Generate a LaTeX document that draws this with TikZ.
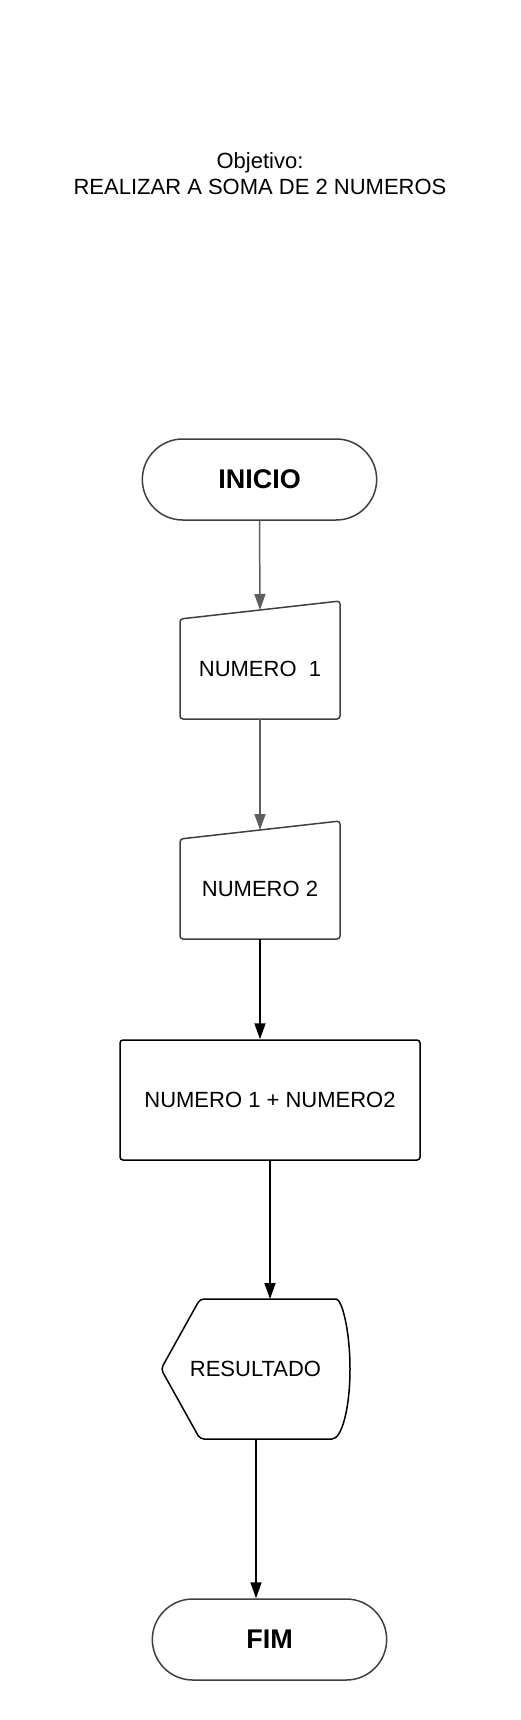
\documentclass[tikz,border=0pt]{standalone}
\usepackage{fontspec}
\setmainfont{Liberation Sans}
\usetikzlibrary{shapes.misc,arrows.meta}

\definecolor{bordergray}{HTML}{3B3F48}
\definecolor{arrowgray}{HTML}{5E5E5E}

\begin{document}
\begin{tikzpicture}[x=1pt,y=-1pt,
    txt/.style={font=\fontsize{22}{26}\selectfont},
    terminal/.style={rounded rectangle, draw=bordergray, line width=1.5pt, minimum width=241pt, minimum height=81pt, font=\fontsize{27}{30}\selectfont\bfseries},
    inbox/.style={rectangle, minimum width=160pt, minimum height=100pt, outer sep=0pt, txt},
    inborder/.style={draw=bordergray, line width=1.5pt, rounded corners=3pt},
    procbox/.style={rectangle, draw, line width=1.5pt, rounded corners=3pt, minimum width=300pt, minimum height=120pt, txt},
    flowgray/.style={draw=arrowgray, line width=1.5pt, -{Triangle[length=16pt,width=11pt]}},
    flow/.style={draw=black, line width=1.8pt, -{Triangle[length=16pt,width=11pt]}}]
    \useasboundingbox (0,0) rectangle (520,1720);

    % Objetivo
    \node[txt, align=center] (goal) at (260,174) {Objetivo:\\REALIZAR A SOMA DE 2 NUMEROS};

    % Inicio
    \node[terminal] (inicio) at (259.5,479.5) {INICIO};

    % Entradas
    \node[inbox] (num1) at (260,669) {NUMERO~~1};
    \draw[inborder] (num1.south west) -- (num1.south east) -- ([yshift=18pt]num1.north east) -- (num1.north west) -- cycle;

    \node[inbox] (num2) at (260,889) {NUMERO 2};
    \draw[inborder] (num2.south west) -- (num2.south east) -- ([yshift=18pt]num2.north east) -- (num2.north west) -- cycle;

    % Soma
    \node[procbox] (soma) at (270,1100) {NUMERO 1 + NUMERO2};

    % Saida
    \node[txt, minimum width=189pt, minimum height=140pt, outer sep=0pt] (res) at (255.5,1369) {RESULTADO};
    \draw[line width=1.5pt, line join=round, line cap=round] [rounded corners=4pt] ([xshift=-18pt]res.south east) -- ([xshift=39pt]res.south west)
        -- (res.west) -- ([xshift=39pt]res.north west) -- ([xshift=-18pt]res.north east)
        [sharp corners] arc[start angle=90, end angle=-90, x radius=18pt, y radius=70pt];

    % Fim
    \node[terminal] (fim) at (269.5,1639.5) {FIM};

    % Setas
    \draw[flowgray] (inicio.south) -- ([yshift=9pt]num1.north);
    \draw[flowgray] (num1.south) -- ([yshift=9pt]num2.north);
    \draw[flow] (num2.south) -- (num2.south |- soma.north);
    \draw[flow] (soma.south) -- (soma.south |- res.north);
    \draw[flow] ([xshift=0.5pt]res.south) -- ([xshift=0.5pt]res.south |- fim.north);
\end{tikzpicture}
\end{document}
